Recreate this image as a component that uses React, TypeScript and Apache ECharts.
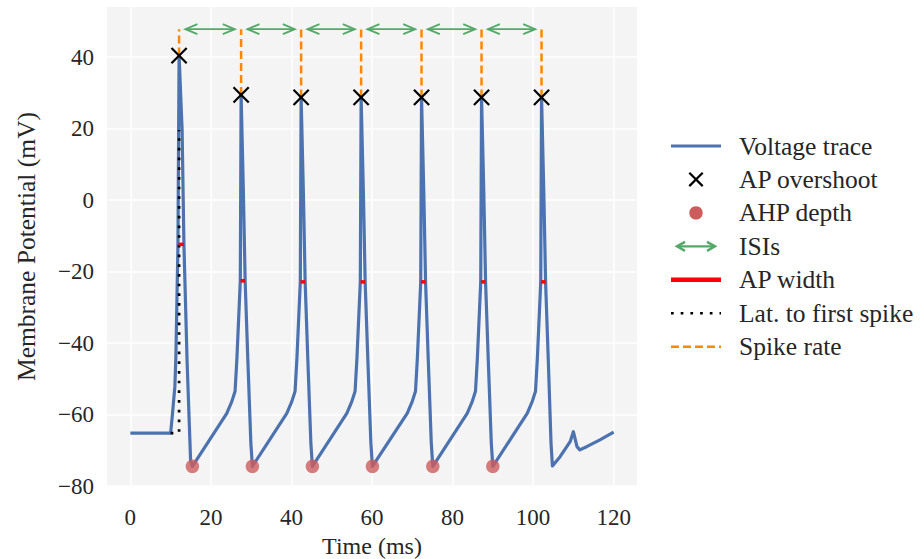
import React, { useEffect, useRef } from "react";
import * as echarts from "echarts";

// Membrane potential trace (ms, mV)
const traceTime = [
  0, 10.0, 10.4, 11.05, 11.3, 11.82, 12.1, 12.85, 13.3, 14.1, 14.95, 15.4,
  23.94, 25.18, 26.0, 26.45, 27.3, 27.5, 28.07, 28.5, 29.17, 29.92, 30.3,
  38.84, 40.08, 40.9, 41.35, 42.2, 42.4, 42.97, 43.4, 44.07, 44.82, 45.2,
  53.74, 54.98, 55.8, 56.25, 57.1, 57.3, 57.87, 58.3, 58.97, 59.72, 60.1,
  68.74, 69.98, 70.8, 71.25, 72.1, 72.3, 72.87, 73.3, 73.97, 74.72, 75.1,
  83.64, 84.88, 85.7, 86.15, 87.0, 87.2, 87.77, 88.2, 88.87, 89.62, 90.0,
  98.54, 99.78, 100.6, 101.05, 101.9, 102.1, 102.67, 103.1, 103.77, 104.45, 104.8,
  106.7, 109.2, 110.0, 110.9, 111.6, 113.3, 116.6, 120.0,
];
const traceVoltage = [
  -65.2, -65.2, -60.5, -52.2, -44.0, -12.4, 40.4, 19.6, -12.4, -45.6, -72.7, -74.5,
  -59.7, -56.4, -53.5, -44.5, -22.6, 29.4, 1.9, -22.6, -44.7, -68.0, -74.5,
  -59.7, -56.4, -53.5, -44.5, -22.9, 28.7, 1.6, -22.9, -44.7, -68.0, -74.5,
  -59.7, -56.4, -53.5, -44.5, -22.9, 28.7, 1.6, -22.9, -44.7, -68.0, -74.5,
  -59.7, -56.4, -53.5, -44.5, -22.9, 28.7, 1.6, -22.9, -44.7, -68.0, -74.5,
  -59.7, -56.4, -53.5, -44.5, -22.9, 28.7, 1.6, -22.9, -44.7, -68.0, -74.5,
  -59.7, -56.4, -53.5, -44.5, -22.9, 28.7, 1.6, -22.9, -44.7, -68.0, -74.4,
  -71.8, -67.6, -64.8, -69.0, -69.9, -69.0, -67.1, -64.9,
];

// Spike features
const spikeTimes = [12.1, 27.5, 42.4, 57.3, 72.3, 87.2, 102.1];
const spikePeaks = [40.4, 29.4, 28.7, 28.7, 28.7, 28.7, 28.7];
const ahpTimes = [15.4, 30.3, 45.2, 60.1, 75.1, 90.0];
const ahpDepths = [-74.5, -74.5, -74.5, -74.5, -74.5, -74.5];
const widthStarts = [12.0, 27.35, 42.25, 57.15, 72.15, 87.05, 101.95];
const widthEnds = [13.3, 28.5, 43.4, 58.3, 73.3, 88.2, 103.1];
const widthLevels = [-12.4, -22.6, -22.9, -22.9, -22.9, -22.9, -22.9];
const stimOnset = 10.0;
const restingPotential = -65.2;
const latencyTop = 19.6;
const isiLevel = 47.8;

const xTicks = [0, 20, 40, 60, 80, 100, 120];
const yTicks = [-80, -60, -40, -20, 0, 20, 40];

const legendLabels = [
  "Voltage trace",
  "AP overshoot",
  "AHP depth",
  "ISIs",
  "AP width",
  "Lat. to first spike",
  "Spike rate",
];

const FONT = "'Liberation Serif', 'Times New Roman', serif";
const TEXT = "#262626";
const BLUE = "#4c72b0";
const RED_DOT = "#cd5c5c";
const GREEN = "#55a868";
const ORANGE = "#ff8800";
const DOTTED = [2.7, 7];
const DASHED = [8, 4];
const LABEL_SIZE = 25.5;

function buildLegend() {
  const x0 = 671;
  const x1 = 721;
  const xc = 696;
  const tx = 739;
  const rowY = legendLabels.map((_, i) => 146 + i * 33.45);
  const els: any[] = [];
  // Voltage trace
  els.push({ type: "line", shape: { x1: x0, y1: rowY[0], x2: x1, y2: rowY[0] }, style: { stroke: BLUE, lineWidth: 3.2 } });
  // AP overshoot
  const r = 6.7;
  els.push({ type: "line", shape: { x1: xc - r, y1: rowY[1] - r, x2: xc + r, y2: rowY[1] + r }, style: { stroke: "#000", lineWidth: 2.2 } });
  els.push({ type: "line", shape: { x1: xc - r, y1: rowY[1] + r, x2: xc + r, y2: rowY[1] - r }, style: { stroke: "#000", lineWidth: 2.2 } });
  // AHP depth
  els.push({ type: "circle", shape: { cx: xc, cy: rowY[2], r: 6.7 }, style: { fill: RED_DOT } });
  // ISIs
  const ay = rowY[3];
  const al = 677;
  const ar = 715;
  els.push({ type: "line", shape: { x1: al, y1: ay, x2: ar, y2: ay }, style: { stroke: GREEN, lineWidth: 2.4 } });
  els.push({ type: "polyline", shape: { points: [[al + 8, ay - 4.5], [al, ay], [al + 8, ay + 4.5]] }, style: { stroke: GREEN, lineWidth: 2.4, fill: "none" } });
  els.push({ type: "polyline", shape: { points: [[ar - 8, ay - 4.5], [ar, ay], [ar - 8, ay + 4.5]] }, style: { stroke: GREEN, lineWidth: 2.4, fill: "none" } });
  // AP width
  els.push({ type: "line", shape: { x1: x0, y1: rowY[4], x2: x1, y2: rowY[4] }, style: { stroke: "#ff0000", lineWidth: 4.5 } });
  // Latency
  els.push({ type: "line", shape: { x1: x0, y1: rowY[5], x2: x1, y2: rowY[5] }, style: { stroke: "#000", lineWidth: 2.7, lineDash: DOTTED } });
  // Spike rate
  els.push({ type: "line", shape: { x1: x0, y1: rowY[6], x2: x1, y2: rowY[6] }, style: { stroke: ORANGE, lineWidth: 2.5, lineDash: DASHED } });
  legendLabels.forEach((label, i) => {
    els.push({
      type: "text",
      x: tx,
      y: rowY[i],
      style: { text: label, fill: TEXT, fontSize: LABEL_SIZE, fontFamily: FONT, align: "left", verticalAlign: "middle" },
    });
  });
  return els;
}

export default function App() {
  const ref = useRef<HTMLDivElement>(null);

  useEffect(() => {
    if (!ref.current) return;
    const chart = echarts.init(ref.current, null, { renderer: "svg" });

    const minusFmt = (v: number) => String(v).replace("-", "\u2212");

    const option: any = {
      animation: false,
      backgroundColor: "#ffffff",
      grid: {
        left: 107,
        top: 7,
        width: 530,
        height: 479,
        show: true,
        backgroundColor: "#f4f4f4",
        borderWidth: 0,
        outerBoundsMode: "none",
      },
      xAxis: {
        type: "value",
        min: -5.8,
        max: 125.8,
        axisLine: { show: false },
        axisTick: { show: false, customValues: xTicks },
        axisLabel: { customValues: xTicks, fontSize: 23, fontFamily: FONT, color: TEXT, margin: 20, formatter: minusFmt },
        splitLine: { show: true, lineStyle: { color: "#ffffff", width: 1.5 } },
        name: "Time (ms)",
        nameLocation: "middle",
        nameGap: 42,
        nameTextStyle: { fontSize: 24, fontFamily: FONT, color: TEXT },
      },
      yAxis: {
        type: "value",
        min: -80,
        max: 54,
        axisLine: { show: false },
        axisTick: { show: false, customValues: yTicks },
        axisLabel: { customValues: yTicks, fontSize: 23, fontFamily: FONT, color: TEXT, margin: 13, formatter: minusFmt },
        splitLine: { show: true, lineStyle: { color: "#ffffff", width: 1.5 } },
        name: "Membrane Potential (mV)",
        nameLocation: "middle",
        nameGap: 68,
        nameTextStyle: { fontSize: LABEL_SIZE, fontFamily: FONT, color: TEXT },
      },
      series: [
        {
          name: "Voltage trace",
          type: "line",
          data: traceTime.map((t, i) => [t, traceVoltage[i]]),
          showSymbol: false,
          symbol: "none",
          lineStyle: { color: BLUE, width: 3.2, join: "round" },
          z: 2,
        },
        {
          name: "Lat. to first spike",
          type: "custom",
          data: [[stimOnset, restingPotential, spikeTimes[0], latencyTop]],
          encode: { x: [0, 2], y: [1, 3] },
          z: 3,
          renderItem: (_p: any, api: any) => {
            const a = api.coord([api.value(0), api.value(1)]);
            const b = api.coord([api.value(2), api.value(1)]);
            const c = api.coord([api.value(2), api.value(3)]);
            return {
              type: "polyline",
              shape: { points: [a, b, c] },
              style: { stroke: "#000", lineWidth: 2.7, lineDash: DOTTED, fill: "none" },
            };
          },
        },
        {
          name: "AP width",
          type: "custom",
          data: widthStarts.map((s, i) => [s, widthEnds[i], widthLevels[i]]),
          encode: { x: [0, 1], y: 2 },
          z: 4,
          renderItem: (_p: any, api: any) => {
            const a = api.coord([api.value(0), api.value(2)]);
            const b = api.coord([api.value(1), api.value(2)]);
            return {
              type: "line",
              shape: { x1: a[0], y1: a[1], x2: b[0], y2: b[1] },
              style: { stroke: "#ff0000", lineWidth: 3.5 },
            };
          },
        },
        {
          name: "AHP depth",
          type: "scatter",
          data: ahpTimes.map((t, i) => [t, ahpDepths[i]]),
          symbol: "circle",
          symbolSize: 13.5,
          itemStyle: { color: RED_DOT },
          z: 5,
        },
        {
          name: "Spike rate",
          type: "custom",
          data: spikeTimes.map((t, i) => [t, spikePeaks[i], isiLevel]),
          encode: { x: 0, y: [1, 2] },
          z: 5,
          renderItem: (_p: any, api: any) => {
            const a = api.coord([api.value(0), api.value(1)]);
            const b = api.coord([api.value(0), api.value(2)]);
            return {
              type: "line",
              shape: { x1: a[0], y1: a[1], x2: b[0], y2: b[1] },
              style: { stroke: ORANGE, lineWidth: 2.5, lineDash: DASHED },
            };
          },
        },
        {
          name: "AP overshoot",
          type: "custom",
          data: spikeTimes.map((t, i) => [t, spikePeaks[i]]),
          encode: { x: 0, y: 1 },
          z: 6,
          renderItem: (_p: any, api: any) => {
            const [cx, cy] = api.coord([api.value(0), api.value(1)]);
            const r = 7.6;
            return {
              type: "group",
              children: [
                { type: "line", shape: { x1: cx - r, y1: cy - r, x2: cx + r, y2: cy + r }, style: { stroke: "#000", lineWidth: 2.2 } },
                { type: "line", shape: { x1: cx - r, y1: cy + r, x2: cx + r, y2: cy - r }, style: { stroke: "#000", lineWidth: 2.2 } },
              ],
            };
          },
        },
        {
          name: "ISIs",
          type: "custom",
          data: spikeTimes.slice(0, -1).map((t, i) => [t, spikeTimes[i + 1], isiLevel]),
          encode: { x: [0, 1], y: 2 },
          z: 6,
          renderItem: (_p: any, api: any) => {
            const a = api.coord([api.value(0), api.value(2)]);
            const b = api.coord([api.value(1), api.value(2)]);
            const s = 6.3;
            const h = 12;
            const w = 5;
            const xl = a[0] + s;
            const xr = b[0] - s;
            const y = a[1];
            const st = { stroke: GREEN, lineWidth: 1.8, fill: "none" };
            return {
              type: "group",
              children: [
                { type: "line", shape: { x1: xl, y1: y, x2: xr, y2: y }, style: st },
                { type: "polyline", shape: { points: [[xl + h, y - w], [xl, y], [xl + h, y + w]] }, style: st },
                { type: "polyline", shape: { points: [[xr - h, y - w], [xr, y], [xr - h, y + w]] }, style: st },
              ],
            };
          },
        },
      ],
      graphic: buildLegend(),
    };

    chart.setOption(option);
    return () => chart.dispose();
  }, []);

  return <div ref={ref} style={{ position: "absolute", left: 0, top: 0, width: 924, height: 559 }} />;
}
